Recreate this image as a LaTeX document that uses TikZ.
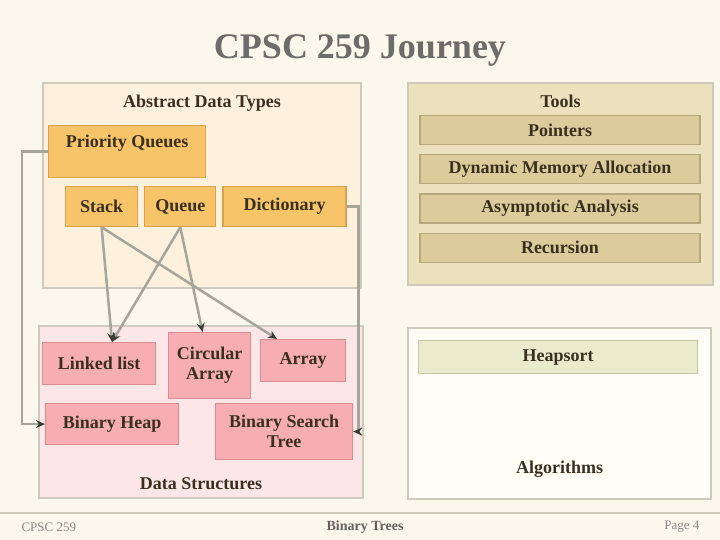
\documentclass[tikz,border=0pt]{standalone}
\usepackage{fontspec}
\setmainfont{Liberation Serif}
\usetikzlibrary{arrows.meta,positioning,calc}
\definecolor{slidebg}{HTML}{FAF8EC}
\definecolor{inkdark}{HTML}{3A3020}
\definecolor{titlegrey}{HTML}{6C6C68}
\definecolor{panelgrey}{HTML}{CFCBBC}
\definecolor{adtbg}{HTML}{FDF1DD}
\definecolor{adtfill}{HTML}{F8C46A}
\definecolor{adtedge}{HTML}{D9A24C}
\definecolor{toolbg}{HTML}{ECE1BC}
\definecolor{toolfill}{HTML}{DCCB9B}
\definecolor{tooledge}{HTML}{B8A67C}
\definecolor{dsbg}{HTML}{FCE6E8}
\definecolor{dsfill}{HTML}{F6AEB3}
\definecolor{dsedge}{HTML}{D98C92}
\definecolor{algbg}{HTML}{FEFEF7}
\definecolor{algfill}{HTML}{E9EBCC}
\definecolor{algedge}{HTML}{C6C7A6}
\definecolor{conngrey}{HTML}{A6A59A}
\definecolor{tipdark}{HTML}{3C3C36}

\begin{document}
\begin{tikzpicture}[x=1pt,y=-1pt,node distance=6pt,
  every node/.style={font=\bfseries\fontsize{18}{20}\selectfont,text=inkdark},
  panel/.style={draw=panelgrey,line width=2pt,anchor=north west,inner sep=0pt},
  lbl/.style={anchor=north,yshift=-9pt},
  adtbox/.style={draw=adtedge,fill=adtfill,line width=1.2pt,inner sep=2pt,align=center,minimum height=40pt},
  toolbar/.style={draw=tooledge,fill=toolfill,line width=1.2pt,inner sep=2pt,minimum width=280pt,minimum height=29pt},
  dsbox/.style={draw=dsedge,fill=dsfill,line width=1.2pt,inner sep=2pt,align=center},
  conn/.style={draw=conngrey,line width=2.5pt,-{Stealth[length=9pt,width=8pt,color=tipdark]}},
  foot/.style={font=\fontsize{13}{15}\selectfont,text=titlegrey!80}]
\useasboundingbox[fill=slidebg] (0,0) rectangle (720,540);

% title
\node[font=\bfseries\fontsize{36}{40}\selectfont,text=titlegrey] (title) at (360,50) {CPSC 259 Journey};

% abstract data types
\node[panel,fill=adtbg,minimum width=318pt,minimum height=205pt,
  label={[lbl]north:Abstract Data Types}] (adt) at (42,82) {};
\node[adtbox,anchor=north west,minimum width=157pt,minimum height=52pt,text depth=20pt] (pq) at (48,125) {Priority Queues};
\node[adtbox,anchor=north west,minimum width=72pt] (stack) at (65,186) {Stack};
\node[adtbox,right=of stack,minimum width=71pt] (queue) {Queue};
\node[adtbox,right=of queue,minimum width=123pt] (dict) {Dictionary};

% tools
\node[panel,fill=toolbg,minimum width=305pt,minimum height=202pt,
  label={[lbl]north:Tools}] (tools) at (407,82) {};
\node[toolbar,anchor=north] (ptr) at (560,115) {Pointers};
\node[toolbar,below=9pt of ptr] (dma) {Dynamic Memory Allocation};
\node[toolbar,below=9pt of dma] (asym) {Asymptotic Analysis};
\node[toolbar,below=9pt of asym] (rec) {Recursion};

% data structures
\node[panel,fill=dsbg,minimum width=324pt,minimum height=172pt,
  label={[anchor=south,yshift=6pt]south:Data Structures}] (ds) at (38,325) {};
\node[dsbox,anchor=north west,minimum width=113pt,minimum height=42pt] (ll) at (42,342) {Linked list};
\node[dsbox,anchor=north west,minimum width=82pt,minimum height=66pt] (ca) at (168,332) {Circular\\Array};
\node[dsbox,anchor=north west,minimum width=85pt,minimum height=42pt] (arr) at (260,339) {Array};
\node[dsbox,anchor=north west,minimum width=133pt,minimum height=41pt] (bh) at (45,403) {Binary Heap};
\node[dsbox,anchor=north west,minimum width=137pt,minimum height=56pt] (bst) at (215,403) {Binary Search\\Tree};

% algorithms
\node[panel,fill=algbg,minimum width=303pt,minimum height=171pt,
  label={[anchor=south,yshift=19pt]south:Algorithms}] (alg) at (407,327) {};
\node[draw=algedge,fill=algfill,line width=1.2pt,minimum width=279pt,minimum height=33pt,anchor=north west] (heap) at (418,340) {Heapsort};

% links
\draw[conn] (pq.west) -- ++(-26,0) |- (bh.west);
\draw[conn] (dict.east) -- ++(12,0) |- (bst.east);
\draw[conn] (stack.south) -- ($(ll.north)+(13,0)$);
\draw[conn] (stack.south) -- ($(arr.north west)+(17,0)$);
\draw[conn] (queue.south) -- ($(ll.north)+(13,0)$);
\draw[conn] (queue.south) -- ($(ca.north)+(-7,0)$);

% footer
\draw[panelgrey,line width=2pt] (0,513) -- (720,513);
\node[foot,anchor=west] (course) at (18,527) {CPSC 259};
\node[font=\bfseries\fontsize{14}{16}\selectfont,text=titlegrey!90!black] (topic) at (365,527) {Binary Trees};
\node[foot,anchor=east] (page) at (703,527) {Page 4};
\end{tikzpicture}
\end{document}
